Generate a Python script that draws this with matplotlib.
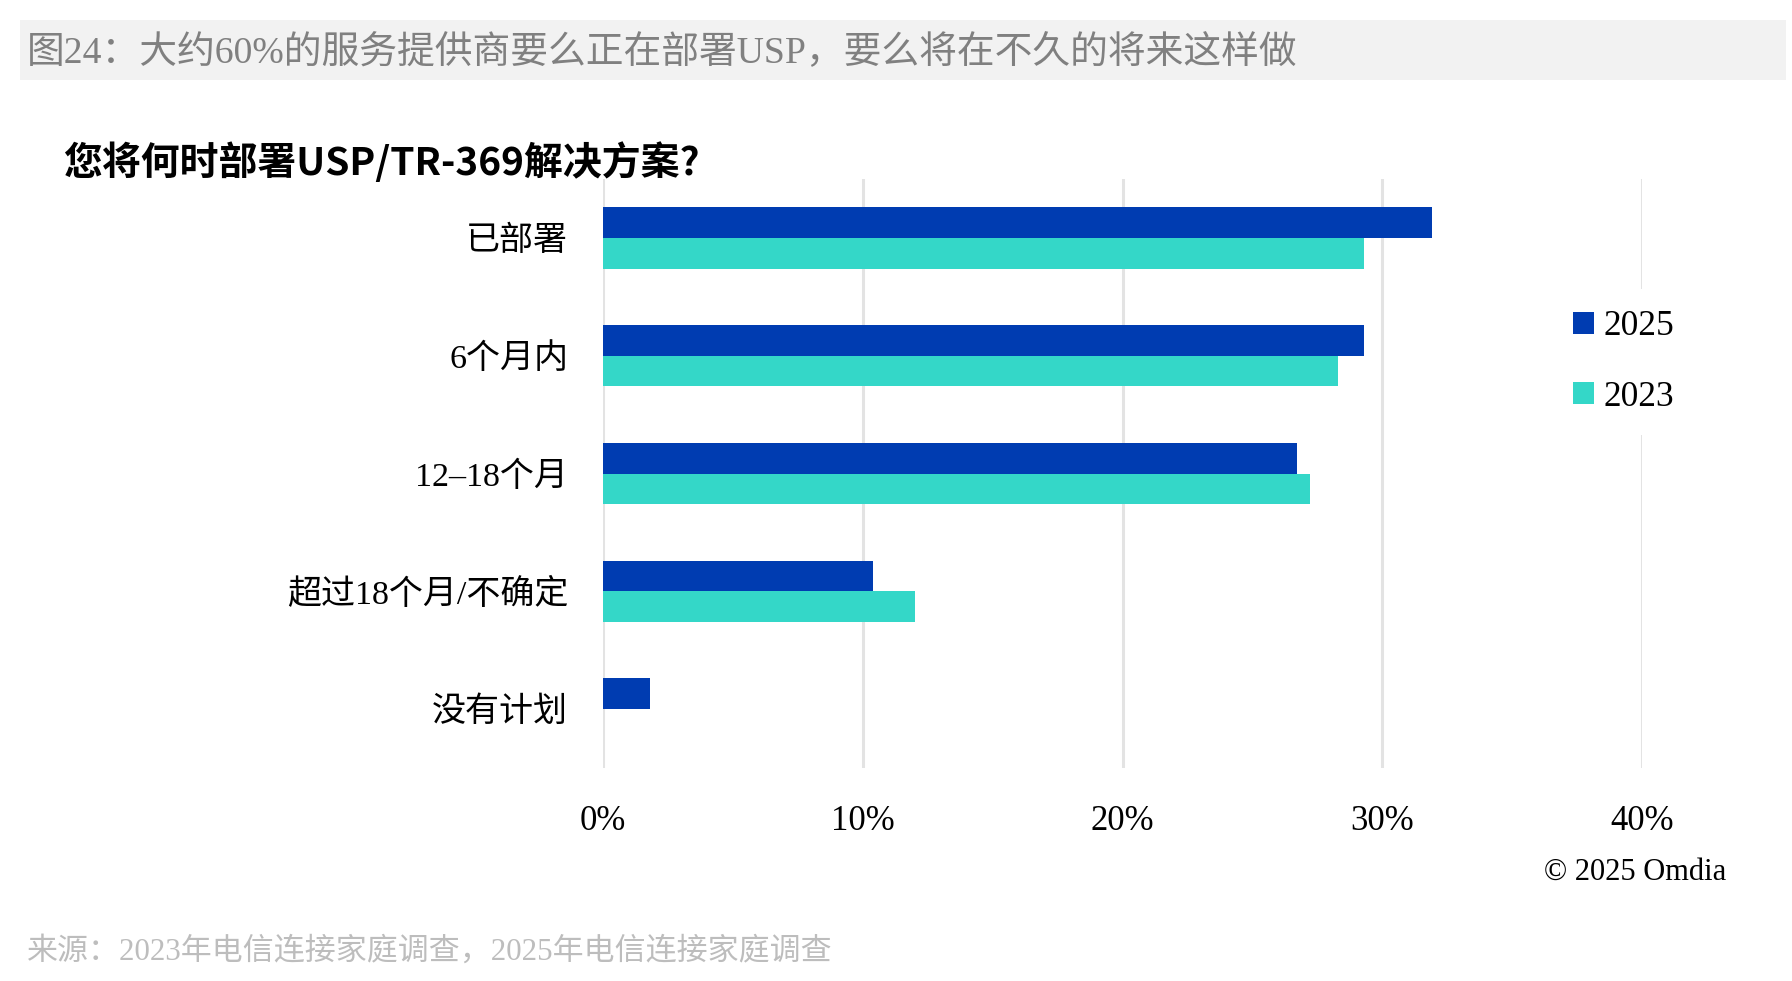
import matplotlib
matplotlib.use('Agg')
import matplotlib.pyplot as plt
from matplotlib.patches import Patch, Rectangle

plt.rcParams['font.family'] = ['Liberation Serif', 'Noto Sans CJK SC', 'DejaVu Sans']

# 数据
categories = ['已部署', '6个月内', '12–18个月', '超过18个月/不确定', '没有计划']
values_2025 = [31.9, 29.3, 26.7, 10.4, 1.8]
values_2023 = [29.3, 28.3, 27.2, 12.0, 0.0]
series_labels = ['2025', '2023']
x_ticks = [0, 10, 20, 30, 40]
x_tick_labels = ['0%', '10%', '20%', '30%', '40%']

header = '图24：大约60%的服务提供商要么正在部署USP，要么将在不久的将来这样做'
chart_title = '您将何时部署USP/TR-369解决方案?'
source = '来源：2023年电信连接家庭调查，2025年电信连接家庭调查'
copyright_text = '© 2025 Omdia'

color_2025 = '#003cb1'
color_2023 = '#34d7c8'

W, H = 1792, 981
fig = plt.figure(figsize=(W / 100, H / 100), dpi=100)

# 顶部灰色标题栏
fig.patches.append(Rectangle((20 / W, 1 - 80 / H), (1786 - 20) / W, 60 / H,
                             transform=fig.transFigure, facecolor='#f2f2f2',
                             edgecolor='none', zorder=0))
fig.text(27 / W, 1 - 53 / H, header, fontsize=27.2, color='#808080',
         va='center', ha='left')

fig.text(63 / W, 1 - 163 / H, chart_title, fontsize=28, fontweight='bold',
         family=['Noto Sans CJK SC'], va='center', ha='left')

# 主图
left, right, top, bottom = 603, 1642, 179, 768
ax = fig.add_axes([left / W, 1 - bottom / H, (right - left) / W, (bottom - top) / H])

ypos = list(range(len(categories)))
h = 0.26
ax.barh([y - h / 2 for y in ypos], values_2025, height=h, color=color_2025, zorder=3)
ax.barh([y + h / 2 for y in ypos], values_2023, height=h, color=color_2023, zorder=3)

ax.set_xlim(0, 40)
ax.set_ylim(4.5, -0.5)
ax.set_yticks(ypos)
ax.set_yticklabels(categories, fontsize=24.5)
ax.set_xticks(x_ticks)
ax.set_xticklabels(x_tick_labels, fontsize=25)
ax.tick_params(axis='both', length=0)
ax.tick_params(axis='y', pad=25)
ax.tick_params(axis='x', pad=27)
for s in ax.spines.values():
    s.set_visible(False)
ax.grid(axis='x', color='#e3e3e3', linewidth=2.2, zorder=0)
ax.set_axisbelow(True)

handles = [Patch(facecolor=color_2025), Patch(facecolor=color_2023)]
leg = ax.legend(handles, series_labels, loc='center left',
                bbox_to_anchor=(1534 / W, 1 - 362 / H), bbox_transform=fig.transFigure,
                fontsize=25.5, frameon=True, facecolor='white', edgecolor='none',
                framealpha=1, handlelength=0.6, handleheight=0.6,
                handletextpad=0.25, labelspacing=1.05, borderpad=0.6,
                fancybox=False)
leg.set_zorder(5)

fig.text(1726 / W, 1 - 872 / H, copyright_text, fontsize=22, ha='right', va='center')
fig.text(27 / W, 1 - 952 / H, source, fontsize=22.3, color='#bdbdbd',
         ha='left', va='center')

fig.savefig('out.png', dpi=100)
